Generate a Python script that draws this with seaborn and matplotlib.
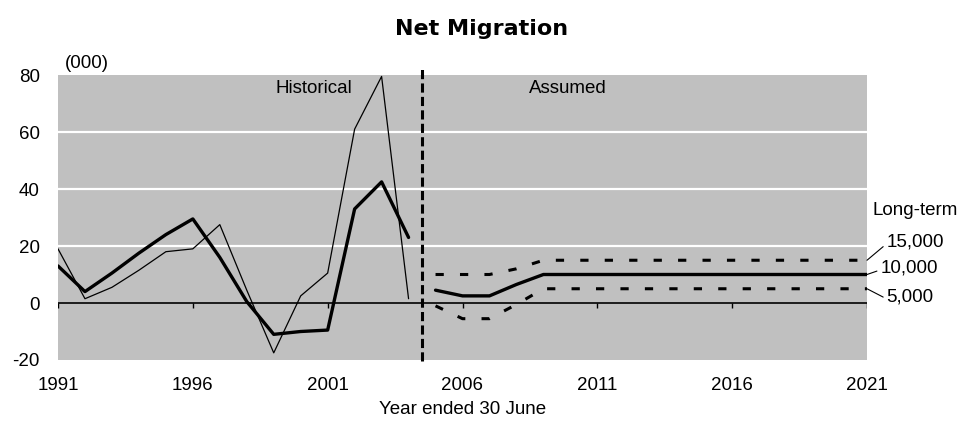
import numpy as np
import pandas as pd
import seaborn as sns
import matplotlib.pyplot as plt

# data (thousands)
hist_years = list(range(1991, 2005))
net_thick = [13, 4, 10.5, 17.5, 24, 29.5, 16, 0.5, -11, -10, -9.5, 33, 42.5, 23]
net_thin = [19, 1.5, 5.5, 11.5, 18, 19, 27.5, 4.5, -17.5, 2.5, 10.5, 61, 79.5, 1.5]

proj_years = list(range(2005, 2022))
proj_mid = [4.5, 2.5, 2.5, 6.5, 10, 10, 10, 10, 10, 10, 10, 10, 10, 10, 10, 10, 10]
proj_high = [10, 10, 10, 12, 15, 15, 15, 15, 15, 15, 15, 15, 15, 15, 15, 15, 15]
proj_low = [-1, -5.5, -5.5, -0.5, 5, 5, 5, 5, 5, 5, 5, 5, 5, 5, 5, 5, 5]

long_term = [15, 10, 5]
long_term_labels = ['15,000', '10,000', '5,000']
x_ticks = [1991, 1996, 2001, 2006, 2011, 2016, 2021]
y_ticks = [-20, 0, 20, 40, 60, 80]

hist = pd.DataFrame({'year': hist_years, 'thick': net_thick, 'thin': net_thin})
proj = pd.DataFrame({'year': proj_years, 'mid': proj_mid, 'high': proj_high, 'low': proj_low})

sns.set_style('white', {'axes.facecolor': '#c0c0c0'})
plt.rcParams['font.family'] = ['Liberation Sans', 'DejaVu Sans']
plt.rcParams['text.color'] = 'black'
plt.rcParams['axes.labelcolor'] = 'black'
plt.rcParams['axes.unicode_minus'] = False

fig = plt.figure(figsize=(9.74, 4.30), dpi=100)
ax = fig.add_axes([58/974, 1 - 360/430, (867 - 58)/974, (360 - 75)/430])

# grid + zero line
for g in [20, 40, 60]:
    ax.axhline(g, color='white', lw=1.6, zorder=1)
ax.axhline(0, color='black', lw=1.2, zorder=2)
ax.vlines(x_ticks, -1.8, 0, color='black', lw=1, zorder=2)

# historical
sns.lineplot(data=hist, x='year', y='thin', color='black', lw=0.9, ax=ax, zorder=3)
sns.lineplot(data=hist, x='year', y='thick', color='black', lw=2.4, ax=ax, zorder=4)

# assumed
sns.lineplot(data=proj, x='year', y='mid', color='black', lw=2.4, ax=ax, zorder=4)
sns.lineplot(data=proj, x='year', y='high', color='black', lw=2.2, linestyle=(0, (2.7, 5.3)), ax=ax, zorder=4)
sns.lineplot(data=proj, x='year', y='low', color='black', lw=2.2, linestyle=(0, (2.7, 5.3)), ax=ax, zorder=4)

ax.axvline(2004.5, ymin=-0.005, ymax=1.02, color='black', lw=2.2,
           linestyle=(0, (3, 1.4)), clip_on=False, zorder=5)

ax.set_xlim(1991, 2021)
ax.set_ylim(-20, 80)
ax.set_xticks(x_ticks)
ax.set_yticks(y_ticks)
ax.tick_params(axis='both', length=0, labelsize=13.5, colors='black')
ax.tick_params(axis='x', pad=12)
ax.tick_params(axis='y', pad=13)
for s in ax.spines.values():
    s.set_visible(False)

ax.set_xlabel('Year ended 30 June', fontsize=13.5, labelpad=5)
ax.set_ylabel('')

ax.text(0.009, 1.042, '(000)', transform=ax.transAxes, ha='left', va='center', fontsize=13.5)
ax.text(2000.5, 75.4, 'Historical', ha='center', va='center', fontsize=13.5)
ax.text(2009.9, 75.4, 'Assumed', ha='center', va='center', fontsize=13.5)

# long-term labels on the right
ax.text(1.007, 0.526, 'Long-term', transform=ax.transAxes, ha='left', va='center', fontsize=13.5)
offsets = [(14, 13), (9.5, 4.5), (14, -6)]
for v, lab, off in zip(long_term, long_term_labels, offsets):
    ax.annotate(lab, xy=(2021, v), xytext=off, textcoords='offset points',
                ha='left', va='center', fontsize=13.5, annotation_clip=False,
                arrowprops=dict(arrowstyle='-', lw=0.8, color='black',
                                shrinkA=0, shrinkB=0, relpos=(0, 0.4)))

fig.text(0.494, 0.933, 'Net Migration', ha='center', va='center',
         fontsize=16, fontweight='bold', family='DejaVu Sans')

fig.savefig('out.png', dpi=100)
